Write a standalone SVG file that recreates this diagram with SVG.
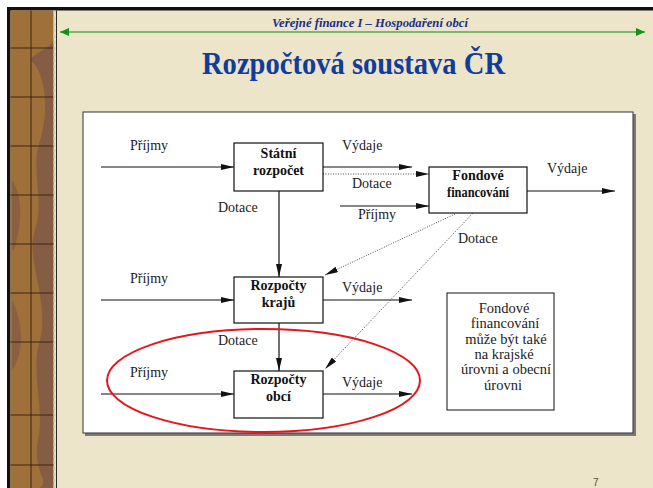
<svg xmlns="http://www.w3.org/2000/svg" width="653" height="488" viewBox="0 0 653 488">
<style>
.lbl{font-family:"Liberation Serif","Times New Roman",serif;font-size:14px;fill:#222}
.bt{font-family:"Liberation Serif","Times New Roman",serif;font-size:14px;font-weight:bold;fill:#111;text-anchor:middle}
.nt{font-family:"Liberation Serif","Times New Roman",serif;font-size:14.5px;fill:#222;text-anchor:middle}
.box{fill:#fff;stroke:#111;stroke-width:1.2}
.c{stroke:#111;stroke-width:1.2;fill:none;marker-end:url(#ah)}
.d{stroke:#222;stroke-width:0.8;fill:none;stroke-dasharray:1 1.5;marker-end:url(#ah)}
</style>
<defs>
<marker id="ah" markerUnits="userSpaceOnUse" markerWidth="13" markerHeight="6" refX="13" refY="3" orient="auto">
<path d="M0,0 L13,3 L0,6 z" fill="#111"/>
</marker>
<marker id="ga" markerUnits="userSpaceOnUse" markerWidth="9" markerHeight="8" refX="9" refY="4" orient="auto-start-reverse">
<path d="M0,0 L9,4 L0,8 z" fill="#13901a"/>
</marker>
</defs>
<g id="background">
<rect x="0" y="0" width="653" height="488" fill="#fff"/>
<rect x="7" y="7" width="646" height="481" fill="#ece5c9"/>
<rect x="7" y="7" width="646" height="3.5" fill="#111"/>
<rect x="7" y="7" width="3.5" height="481" fill="#111"/>
<rect x="10.5" y="10.5" width="43" height="478" fill="#a0703a"/>
<path d="M30,60 C45,70 50,110 40,140 C30,170 45,200 35,230 C25,260 50,300 40,340 C30,370 45,410 38,440 C32,470 50,480 40,488 L53.5,488 L53.5,40 C48,50 38,50 30,60 z" fill="#6f4d4c" opacity="0.55"/>
<path d="M12,180 C25,200 20,230 14,250 L12,250 z M12,300 C22,320 26,350 12,370 z" fill="#6f4d4c" opacity="0.45"/>
<g stroke="#3a2614" stroke-width="1">
<line x1="31" y1="10.5" x2="31" y2="488"/>
<line x1="10.5" y1="48" x2="53.5" y2="48"/>
<line x1="10.5" y1="97" x2="53.5" y2="97"/>
<line x1="10.5" y1="146" x2="53.5" y2="146"/>
<line x1="10.5" y1="195" x2="53.5" y2="195"/>
<line x1="10.5" y1="244" x2="53.5" y2="244"/>
<line x1="10.5" y1="293" x2="53.5" y2="293"/>
<line x1="10.5" y1="342" x2="53.5" y2="342"/>
<line x1="10.5" y1="415" x2="53.5" y2="415"/>
<line x1="10.5" y1="465" x2="53.5" y2="465"/>
</g>
<line x1="54.5" y1="10.5" x2="54.5" y2="488" stroke="#d8cfae" stroke-width="2" stroke-dasharray="4 2"/>
<line x1="56.5" y1="10.5" x2="56.5" y2="488" stroke="#2a2a2a" stroke-width="1"/>
</g>
<g id="header">
<line x1="60" y1="32" x2="645" y2="32" stroke="#5aa845" stroke-width="1.5" marker-start="url(#ga)" marker-end="url(#ga)"/>
<text x="370" y="27" text-anchor="middle" textLength="196" lengthAdjust="spacingAndGlyphs" font-family="'Liberation Serif','Times New Roman',serif" font-size="12.5" font-style="italic" font-weight="bold" fill="#1c2f88">Veřejné finance I – Hospodaření obcí</text>
<text x="353.5" y="74" text-anchor="middle" textLength="303" lengthAdjust="spacingAndGlyphs" font-family="'Liberation Serif','Times New Roman',serif" font-size="31" font-weight="bold" fill="#103c9c">Rozpočtová soustava ČR</text>
<text x="593" y="486" font-family="'Liberation Sans',Arial,sans-serif" font-size="10" fill="#5a4630">7</text>
</g>
<g id="panel">
<rect x="85" y="114" width="551" height="322" fill="#7a7a7a"/>
<rect x="83" y="112" width="550" height="321" fill="#fff" stroke="#333" stroke-width="1"/>
</g>
<g id="connectors">
<line class="c" x1="101" y1="167" x2="234" y2="167"/>
<line class="c" x1="323" y1="167" x2="412" y2="167"/>
<line class="d" x1="323" y1="174" x2="429" y2="174"/>
<line class="c" x1="340" y1="206" x2="429" y2="206"/>
<line class="c" x1="527" y1="191" x2="615" y2="191"/>
<line class="c" x1="279" y1="191" x2="279" y2="277"/>
<line class="c" x1="101" y1="300" x2="234" y2="300"/>
<line class="c" x1="323" y1="300" x2="412" y2="300"/>
<line class="c" x1="279" y1="323" x2="279" y2="371"/>
<line class="c" x1="101" y1="394" x2="234" y2="394"/>
<line class="c" x1="323" y1="394" x2="412" y2="394"/>
<line class="d" x1="455" y1="214" x2="325" y2="275"/>
<line class="d" x1="473" y1="213" x2="325" y2="369"/>
</g>
<g id="labels">
<text class="lbl" x="130" y="150">Příjmy</text>
<text class="lbl" x="342" y="150">Výdaje</text>
<text class="lbl" x="352" y="188">Dotace</text>
<text class="lbl" x="358" y="219">Příjmy</text>
<text class="lbl" x="547" y="173">Výdaje</text>
<text class="lbl" x="218" y="212">Dotace</text>
<text class="lbl" x="458" y="243">Dotace</text>
<text class="lbl" x="130" y="283">Příjmy</text>
<text class="lbl" x="342" y="292">Výdaje</text>
<text class="lbl" x="218" y="345">Dotace</text>
<text class="lbl" x="130" y="377">Příjmy</text>
<text class="lbl" x="342" y="387">Výdaje</text>
</g>
<g id="statni-rozpocet">
<rect class="box" x="234" y="143" width="89" height="48"/>
<text class="bt" x="278.5" y="158">Státní</text>
<text class="bt" x="278.5" y="175">rozpočet</text>
</g>
<g id="fondove-financovani">
<rect class="box" x="429" y="167" width="98" height="46"/>
<text class="bt" x="478" y="180">Fondové</text>
<text class="bt" x="478" y="197" textLength="62" lengthAdjust="spacingAndGlyphs">financování</text>
</g>
<g id="rozpocty-kraju">
<rect class="box" x="234" y="277" width="89" height="46"/>
<text class="bt" x="278.5" y="290">Rozpočty</text>
<text class="bt" x="278.5" y="307">krajů</text>
</g>
<g id="rozpocty-obci">
<rect class="box" x="234" y="371" width="89" height="47"/>
<text class="bt" x="278.5" y="384">Rozpočty</text>
<text class="bt" x="278.5" y="401">obcí</text>
</g>
<g id="note">
<rect x="447" y="293" width="107" height="117" fill="#fff" stroke="#111" stroke-width="1"/>
<text class="nt" x="504" y="313">Fondové</text>
<text class="nt" x="505" y="328">financování</text>
<text class="nt" x="506" y="343.5">může být také</text>
<text class="nt" x="504" y="359">na krajské</text>
<text class="nt" x="506" y="374">úrovni a obecní</text>
<text class="nt" x="503" y="389.5">úrovni</text>
</g>
<g id="highlight">
<ellipse cx="263.5" cy="380.5" rx="156.5" ry="51.5" fill="none" stroke="#e8141c" stroke-width="2"/>
</g>
</svg>
